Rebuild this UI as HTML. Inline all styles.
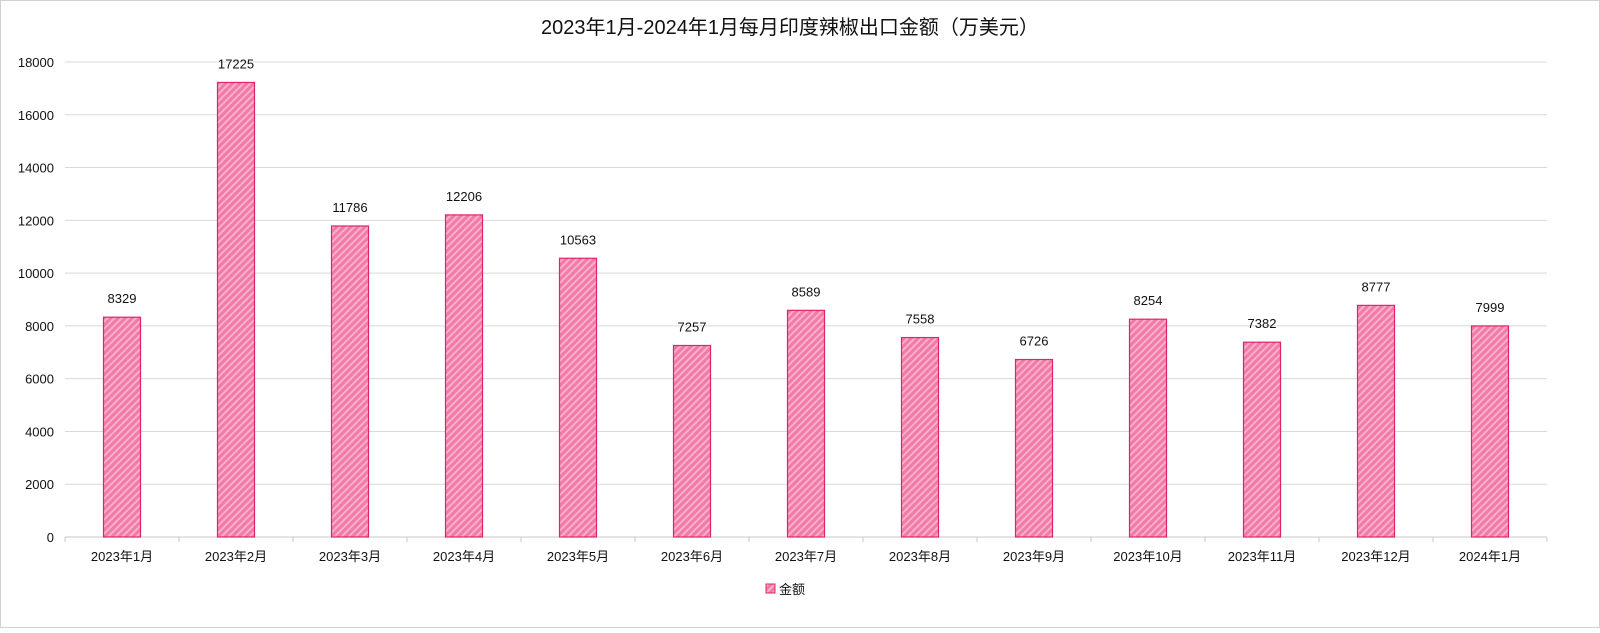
<!DOCTYPE html>
<html><head><meta charset="utf-8"><style>
body{margin:0;background:#fff;}
svg text{font-family:"Liberation Sans","Noto Sans CJK SC",sans-serif;}
</style></head><body>
<svg width="1600" height="628" viewBox="0 0 1600 628">
<defs>
<pattern id="hatch" width="5" height="5" patternUnits="userSpaceOnUse" patternTransform="rotate(45)">
<rect width="5" height="5" fill="#f27aa8"/>
<rect width="2" height="5" fill="#f8b0ca"/>
</pattern>
</defs>
<rect x="0.5" y="0.5" width="1599" height="627" fill="#fff" stroke="#d0d0d0"/>
<text x="790" y="34" font-size="20" text-anchor="middle" fill="#111">2023年1月-2024年1月每月印度辣椒出口金额（万美元）</text>
<g id="grid"></g><g id="bars"></g><g id="xlab"></g>
<g>
<rect x="766" y="584" width="9" height="9" fill="url(#hatch)" stroke="#e0246c"/>
<text x="779" y="594" font-size="13" fill="#111">金额</text>
</g>
</svg>
<script>
const categories=["2023年1月","2023年2月","2023年3月","2023年4月","2023年5月","2023年6月","2023年7月","2023年8月","2023年9月","2023年10月","2023年11月","2023年12月","2024年1月"];
const values=[8329,17225,11786,12206,10563,7257,8589,7558,6726,8254,7382,8777,7999];
const yTicks=[0,2000,4000,6000,8000,10000,12000,14000,16000,18000];
const NS="http://www.w3.org/2000/svg";
const x0=65,x1=1547,yBase=537,yTop=62,yMax=18000;
const step=(x1-x0)/categories.length;
function y(v){return yBase-(v/yMax)*(yBase-yTop);}
function xc(i){return x0+step*(i+0.5);}
function mk(t,a,p){const e=document.createElementNS(NS,t);for(const k in a)e.setAttribute(k,a[k]);p.appendChild(e);return e;}
const g=document.getElementById('grid'),b=document.getElementById('bars'),xl=document.getElementById('xlab');
yTicks.forEach(v=>{
 const l=mk('line',{x1:x0,x2:x1,y1:y(v),y2:y(v),stroke:v===0?'#c8c8c8':'#d9d9d9','stroke-width':1},g);
 
 
 const t=mk('text',{x:54,y:y(v)+5,'font-size':13,'text-anchor':'end',fill:'#111'},g);
 t.textContent=v;
 
 
});
for(let i=0;i<=categories.length;i++){
 const tk=mk('line',{x1:x0+step*i,x2:x0+step*i,y1:yBase,y2:yBase+5,stroke:'#c8c8c8'},g);
 
 
}
values.forEach((v,i)=>{
 const w=37;
 const r=mk('rect',{x:xc(i)-w/2,y:y(v),width:w,height:yBase-y(v),fill:'url(#hatch)',stroke:'#e0246c','stroke-width':1.2},b);
 
 
 const t=mk('text',{x:xc(i),y:y(v)-14,'font-size':13,'text-anchor':'middle',fill:'#111'},b);
 t.textContent=v;
 
 
 const c=mk('text',{x:xc(i),y:yBase+24,'font-size':13,'text-anchor':'middle',fill:'#111'},xl);
 c.textContent=categories[i];
 
 
});
</script>
</body></html>
